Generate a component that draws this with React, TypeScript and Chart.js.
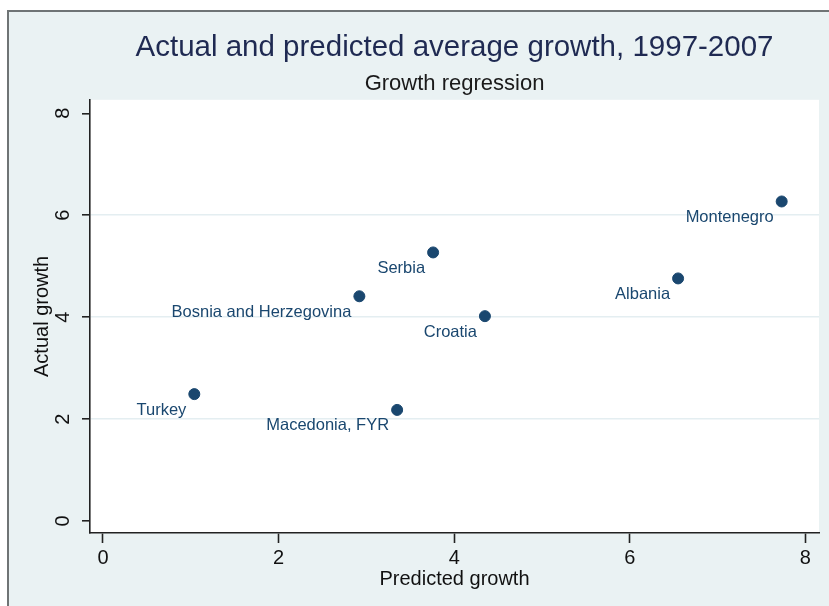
import React, { useEffect, useRef } from "react";
import { Chart, registerables } from "chart.js";

Chart.register(...registerables);

const countries = [
  "Turkey",
  "Macedonia, FYR",
  "Bosnia and Herzegovina",
  "Serbia",
  "Croatia",
  "Albania",
  "Montenegro",
];
const predictedGrowth = [1.04, 3.35, 2.92, 3.76, 4.35, 6.55, 7.73];
const actualGrowth = [2.49, 2.18, 4.41, 5.27, 4.02, 4.76, 6.27];
const xTicks = [0, 2, 4, 6, 8];
const yTicks = [0, 2, 4, 6, 8];
const gridValues = [2, 4, 6];

const FONT = "'Liberation Sans', Arial, Helvetica, sans-serif";
const NAVY = "#1a476f";
const BG = "#eaf2f3";

const framePlugin = {
  id: "frame",
  beforeDraw(chart: any) {
    const { ctx, width, height, chartArea } = chart;
    ctx.save();
    ctx.fillStyle = "#ffffff";
    ctx.fillRect(0, 0, width, height);
    ctx.fillStyle = BG;
    ctx.fillRect(7, 10, width - 7, height - 10);
    ctx.strokeStyle = "#6f7475";
    ctx.lineWidth = 2;
    ctx.beginPath();
    ctx.moveTo(width, 11);
    ctx.lineTo(8, 11);
    ctx.lineTo(8, height);
    ctx.stroke();
    ctx.fillStyle = "#ffffff";
    ctx.fillRect(
      chartArea.left,
      chartArea.top,
      chartArea.right - chartArea.left,
      chartArea.bottom - chartArea.top
    );
    ctx.restore();
  },
};

const labelPlugin = {
  id: "pointLabels",
  afterDatasetsDraw(chart: any) {
    const { ctx } = chart;
    const meta = chart.getDatasetMeta(0);
    ctx.save();
    ctx.font = `16.5px ${FONT}`;
    ctx.fillStyle = NAVY;
    ctx.textAlign = "right";
    ctx.textBaseline = "middle";
    meta.data.forEach((pt: any, i: number) => {
      ctx.fillText(countries[i], pt.x - 8, pt.y + 16);
    });
    ctx.restore();
  },
};

export default function App() {
  const ref = useRef<HTMLCanvasElement | null>(null);

  useEffect(() => {
    document.body.style.margin = "0";
    const canvas = ref.current;
    if (!canvas) return;
    const chart = new Chart(canvas, {
      type: "scatter",
      data: {
        datasets: [
          {
            label: "Actual vs predicted",
            data: predictedGrowth.map((x, i) => ({ x, y: actualGrowth[i] })),
            backgroundColor: NAVY,
            borderColor: NAVY,
            pointRadius: 5.5,
            pointHoverRadius: 5.5,
          },
        ],
      },
      options: {
        animation: false,
        responsive: false,
        devicePixelRatio: 1,
        layout: { padding: { top: 0, right: 10, bottom: 0, left: 0 } },
        plugins: {
          legend: { display: false },
          tooltip: { enabled: false },
          title: {
            display: true,
            fullSize: false,
            text: "Actual and predicted average growth, 1997-2007",
            color: "#1f2a52",
            font: { family: FONT, size: 29.5, weight: "normal", lineHeight: 1.2 },
            padding: { top: 29.8, bottom: 0 },
          },
          subtitle: {
            display: true,
            fullSize: false,
            text: "Growth regression",
            color: "#1a1a1a",
            font: { family: FONT, size: 22, weight: "normal", lineHeight: 1.2 },
            padding: { top: 5.9, bottom: 2.3 },
          },
        },
        scales: {
          x: {
            type: "linear",
            min: -0.148,
            max: 8.155,
            afterBuildTicks(scale: any) {
              scale.ticks = xTicks.map((v) => ({ value: v }));
            },
            afterFit(scale: any) {
              scale.height = 73;
            },
            border: { display: true, color: "#222", width: 1.6 },
            grid: {
              drawOnChartArea: false,
              drawTicks: true,
              tickLength: 10,
              tickColor: "#222",
              tickWidth: 1.6,
            },
            ticks: {
              color: "#111",
              font: { family: FONT, size: 20 },
              padding: 3,
              minRotation: 0,
              maxRotation: 0,
            },
            title: {
              display: true,
              text: "Predicted growth",
              color: "#111",
              font: { family: FONT, size: 20, lineHeight: 1.2 },
              padding: { top: 0, bottom: 15 },
            },
          },
          y: {
            type: "linear",
            min: -0.235,
            max: 8.265,
            afterBuildTicks(scale: any) {
              scale.ticks = yTicks.map((v) => ({ value: v }));
            },
            afterFit(scale: any) {
              scale.width = 90;
            },
            border: { display: true, color: "#222", width: 1.6 },
            grid: {
              drawOnChartArea: true,
              drawTicks: true,
              tickLength: 8,
              color: (c: any) =>
                c.tick && gridValues.includes(c.tick.value) ? "#e4eef1" : "rgba(0,0,0,0)",
              lineWidth: 1.6,
              tickColor: "#222",
              tickWidth: 1.6,
            },
            ticks: {
              color: "#111",
              font: { family: FONT, size: 20 },
              padding: 13,
              minRotation: 90,
              maxRotation: 90,
              crossAlign: "center",
            },
            title: {
              display: true,
              text: "Actual growth",
              color: "#111",
              font: { family: FONT, size: 20, lineHeight: 1.2 },
              padding: { top: 30, bottom: 0 },
            },
          },
        },
      },
      plugins: [framePlugin, labelPlugin],
    } as any);
    return () => chart.destroy();
  }, []);

  return (
    <div style={{ width: 829, height: 606 }}>
      <canvas ref={ref} width={829} height={606} style={{ display: "block" }} />
    </div>
  );
}
